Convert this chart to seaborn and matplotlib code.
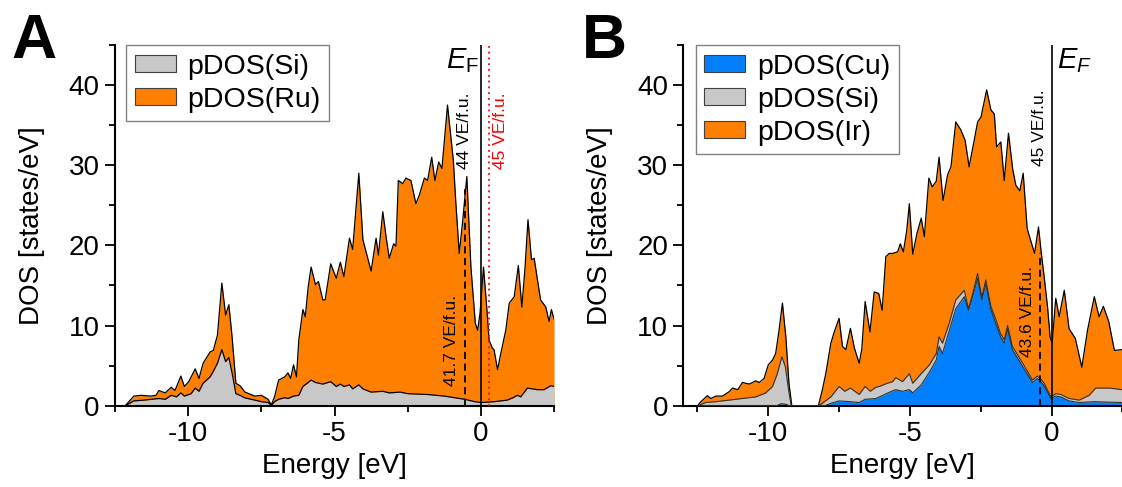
import numpy as np
import pandas as pd
import matplotlib
matplotlib.use("Agg")
import matplotlib.pyplot as plt
from matplotlib.patches import Patch
from matplotlib.ticker import MultipleLocator
import seaborn as sns

# ---------------- data ----------------
# Panel A: top of the stacked Si+Ru pDOS and Si pDOS
energy_a_total = [-12.15, -11.86, -11.6, -11.3, -11.1, -11.0, -10.78, -10.58, -10.45, -10.25,
                  -10.13, -9.98, -9.76, -9.63, -9.49, -9.25, -9.14, -9.0, -8.85, -8.72,
                  -8.61, -8.5, -8.37, -8.23, -8.06, -7.72, -7.5, -7.27, -7.16, -7.05,
                  -6.91, -6.7, -6.59, -6.5, -6.4, -6.3, -6.22, -6.08, -6.0, -5.9,
                  -5.8, -5.65, -5.55, -5.4, -5.32, -5.13, -4.94, -4.8, -4.68, -4.49,
                  -4.38, -4.17, -4.03, -3.75, -3.58, -3.5, -3.35, -3.24, -3.13, -2.98,
                  -2.9, -2.82, -2.67, -2.56, -2.39, -2.22, -2.1, -1.93, -1.82, -1.68,
                  -1.57, -1.44, -1.33, -1.14, -0.94, -0.86, -0.74, -0.63, -0.48, -0.34,
                  -0.19, -0.11, -0.03, 0.09, 0.2, 0.28, 0.39, 0.45, 0.57, 0.68,
                  0.85, 0.97, 1.14, 1.28, 1.4, 1.51, 1.61, 1.73, 1.82, 2.04,
                  2.22, 2.33, 2.41, 2.5]
dos_a_si_ru = [0.0, 1.2, 1.3, 1.2, 1.3, 1.9, 1.6, 2.3, 1.9, 3.7,
               2.4, 3.0, 4.6, 3.4, 5.3, 6.7, 6.9, 8.8, 15.3, 11.3,
               12.6, 8.6, 2.8, 2.5, 1.7, 1.2, 1.3, 0.8, 0.1, 1.1,
               3.2, 3.6, 4.1, 3.4, 5.1, 3.6, 8.2, 12.0, 11.1, 14.8,
               17.3, 15.1, 15.5, 13.2, 13.2, 17.7, 15.9, 17.9, 16.1, 20.9,
               19.5, 29.0, 20.7, 16.8, 20.9, 18.8, 24.2, 21.1, 18.4, 20.2,
               19.9, 28.1, 27.7, 28.4, 28.1, 25.2, 26.3, 28.4, 28.1, 31.0,
               28.1, 30.4, 29.6, 37.5, 30.6, 25.6, 19.0, 22.7, 28.6, 17.3,
               10.3, 9.4, 11.5, 17.3, 12.3, 8.2, 7.2, 7.0, 4.5, 6.5,
               9.4, 12.8, 13.6, 17.5, 12.3, 17.3, 23.2, 18.2, 18.4, 13.2,
               12.3, 10.5, 12.0, 10.8]

energy_a_si = [-12.15, -11.86, -11.5, -11.0, -10.78, -10.58, -10.4, -10.25, -10.13, -9.9,
               -9.76, -9.63, -9.49, -9.25, -9.14, -9.0, -8.85, -8.72, -8.61, -8.5,
               -8.37, -8.23, -8.06, -7.72, -7.5, -7.27, -7.16, -7.05, -6.91, -6.7,
               -6.59, -6.4, -6.22, -6.08, -5.9, -5.8, -5.65, -5.4, -5.13, -4.94,
               -4.8, -4.68, -4.49, -4.38, -4.17, -4.03, -3.75, -3.35, -3.13, -2.75,
               -2.5, -1.82, -1.25, -0.55, -0.2, 0.0, 0.45, 0.9, 1.1, 1.25,
               1.36, 1.59, 1.93, 2.16, 2.39, 2.5]
dos_a_si = [0.0, 0.6, 0.7, 0.9, 0.8, 1.3, 1.1, 1.6, 1.2, 1.5,
            2.2, 1.8, 2.8, 3.6, 4.3, 5.3, 7.0, 5.5, 6.0, 4.1,
            1.5, 1.3, 0.97, 0.7, 0.5, 0.4, 0.05, 0.5, 0.8, 1.0,
            0.9, 1.2, 1.3, 2.4, 2.9, 3.2, 2.9, 2.7, 3.0, 2.4,
            2.7, 2.4, 2.6, 2.1, 2.6, 2.1, 1.7, 1.8, 1.6, 1.7,
            1.5, 1.4, 1.2, 0.8, 0.5, 0.4, 0.5, 0.7, 1.0, 1.3,
            1.1, 2.2, 2.0, 2.0, 2.5, 2.4]

# Panel B: tops of the stacked Cu, Cu+Si, Cu+Si+Ir pDOS
energy_b_total = [-12.5, -12.38, -12.15, -12.03, -11.85, -11.62, -11.38, -11.26, -11.08, -10.91,
                  -10.67, -10.44, -10.32, -10.15, -10.0, -9.85, -9.74, -9.62, -9.5, -9.38,
                  -9.27, -9.17, -8.23, -8.09, -7.97, -7.79, -7.67, -7.5, -7.38, -7.26,
                  -7.1, -6.96, -6.79, -6.7, -6.58, -6.41, -6.26, -6.1, -5.98, -5.85,
                  -5.73, -5.61, -5.43, -5.34, -5.23, -5.11, -5.02, -4.9, -4.75, -4.6,
                  -4.49, -4.33, -4.21, -4.07, -3.97, -3.83, -3.67, -3.55, -3.38, -3.2,
                  -3.05, -2.91, -2.73, -2.61, -2.49, -2.29, -2.14, -2.02, -1.94, -1.79,
                  -1.67, -1.52, -1.37, -1.26, -1.12, -1.0, -0.86, -0.6, -0.46, -0.36,
                  -0.26, -0.14, -0.05, 0.02, 0.15, 0.27, 0.45, 0.62, 0.84, 1.07,
                  1.27, 1.51, 1.68, 1.83, 2.02, 2.22, 2.5]
dos_b_cu_si_ir = [0.0, 0.5, 1.25, 0.9, 1.2, 1.2, 1.75, 2.2, 2.0, 2.9,
                  2.7, 3.1, 2.9, 3.4, 5.1, 5.7, 6.5, 9.4, 12.8, 8.6,
                  2.8, 0.0, 0.0, 2.0, 4.0, 7.8, 9.2, 10.9, 7.4, 7.0,
                  9.65, 7.2, 5.3, 7.0, 13.0, 9.2, 14.2, 14.0, 11.9, 18.6,
                  19.0, 19.0, 19.2, 20.2, 19.2, 21.9, 25.2, 18.9, 21.5, 23.4,
                  21.1, 28.4, 27.3, 28.0, 31.0, 25.6, 28.8, 29.8, 35.4, 34.4,
                  33.1, 29.8, 33.1, 35.4, 36.0, 39.4, 36.9, 36.4, 32.3, 32.9,
                  28.1, 34.0, 29.5, 27.5, 26.8, 29.0, 22.1, 19.0, 22.3, 19.0,
                  16.1, 12.3, 8.6, 7.8, 13.4, 11.1, 14.4, 9.6, 8.4, 4.8,
                  9.4, 13.6, 11.1, 12.4, 10.5, 6.9, 7.0]

energy_b_cusi = [-12.5, -12.2, -11.85, -11.38, -10.91, -10.44, -10.09, -9.85, -9.68, -9.52,
                 -9.4, -9.28, -9.19, -8.23, -8.09, -7.79, -7.5, -7.3, -7.1, -6.79,
                 -6.58, -6.4, -6.2, -6.08, -5.8, -5.61, -5.5, -5.26, -5.02, -4.9,
                 -4.6, -4.31, -4.07, -3.97, -3.85, -3.61, -3.38, -3.08, -2.93, -2.75,
                 -2.61, -2.46, -2.32, -2.14, -1.96, -1.8, -1.67, -1.55, -1.38, -1.02,
                 -0.67, -0.5, -0.4, -0.26, -0.02, 0.15, 0.33, 0.62, 0.98, 1.33,
                 1.56, 2.04, 2.5]
dos_b_cu_si = [0.0, 0.4, 0.5, 0.7, 0.9, 1.1, 1.6, 2.4, 4.0, 6.1,
               4.9, 1.9, 0.0, 0.0, 0.3, 1.1, 2.4, 1.8, 2.2, 1.4,
               2.4, 1.8, 2.3, 2.4, 2.8, 3.0, 3.5, 3.0, 4.0, 2.8,
               4.0, 5.1, 6.5, 8.6, 7.8, 10.3, 13.2, 14.4, 12.1, 14.4,
               16.5, 13.5, 15.7, 12.4, 10.7, 9.0, 8.2, 10.0, 7.4, 5.3,
               3.2, 3.7, 3.4, 2.8, 1.1, 1.5, 1.4, 0.9, 0.7, 1.3,
               2.2, 2.2, 2.0]

energy_b_cu = [-12.5, -9.7, -9.55, -9.4, -9.25, -8.0, -7.79, -7.5, -7.1, -6.79,
               -6.58, -6.2, -6.08, -5.68, -5.5, -5.26, -5.02, -4.9, -4.6, -4.31,
               -4.07, -3.97, -3.85, -3.61, -3.38, -3.08, -2.93, -2.75, -2.61, -2.46,
               -2.32, -2.14, -1.96, -1.8, -1.67, -1.55, -1.38, -1.02, -0.67, -0.5,
               -0.4, -0.26, -0.02, 0.15, 0.33, 0.62, 0.98, 1.5, 2.5]
dos_b_cu = [0.0, 0.0, 0.25, 0.2, 0.0, 0.0, 0.3, 0.6, 0.5, 0.4,
            0.8, 0.9, 1.1, 1.75, 2.0, 1.8, 2.0, 1.6, 2.6, 4.2,
            5.7, 7.4, 6.5, 9.4, 12.1, 13.6, 11.9, 14.0, 15.9, 13.2,
            15.2, 12.0, 10.2, 8.6, 7.8, 9.6, 7.0, 4.9, 2.9, 3.4,
            3.1, 2.5, 0.9, 1.2, 1.1, 0.6, 0.4, 0.5, 0.4]

legend_a = ["pDOS(Si)", "pDOS(Ru)"]
legend_b = ["pDOS(Cu)", "pDOS(Si)", "pDOS(Ir)"]

# ---------------- style ----------------
sns.set_theme(style="ticks")
plt.rcParams["font.family"] = ["Liberation Sans", "DejaVu Sans"]
plt.rcParams["mathtext.fontset"] = "custom"
plt.rcParams["mathtext.rm"] = "Liberation Sans"
plt.rcParams["mathtext.it"] = "Liberation Sans:italic"
plt.rcParams["mathtext.bf"] = "Liberation Sans:bold"
plt.rcParams["axes.unicode_minus"] = False
for key in ["text.color", "axes.labelcolor", "xtick.color", "ytick.color",
            "axes.edgecolor"]:
    plt.rcParams[key] = "black"

ORANGE = "#FF8000"
GREY = "#C8C8C8"
BLUE = "#0080FF"
FS = 20
LEG_FS = 20.5

fig = plt.figure(figsize=(11.22, 4.87), dpi=100)
axA = fig.add_axes([0.1025, 0.1669, 0.3913, 0.7407])
axB = fig.add_axes([0.6090, 0.1669, 0.3913, 0.7407])


def area(ax, x, y, color, edge="black", lw=0.9):
    ax.fill_between(x, 0, y, color=color, linewidth=0, zorder=2)
    sns.lineplot(x=x, y=y, ax=ax, color=edge, linewidth=lw, sort=False, zorder=3,
                 legend=False)


def style_axes(ax, xlim):
    ax.set_xlim(*xlim)
    ax.set_ylim(0, 45)
    ax.xaxis.set_major_locator(MultipleLocator(5))
    ax.xaxis.set_minor_locator(MultipleLocator(2.5))
    ax.yaxis.set_major_locator(MultipleLocator(10))
    ax.yaxis.set_minor_locator(MultipleLocator(5))
    ax.tick_params(which="major", direction="out", length=7, width=1.3,
                   labelsize=FS, pad=4, color="black", labelcolor="black")
    ax.tick_params(which="minor", direction="out", length=4, width=1.3, color="black")
    for s in ["top", "right"]:
        ax.spines[s].set_visible(False)
    for s in ["left", "bottom"]:
        ax.spines[s].set_linewidth(1.5)
        ax.spines[s].set_color("black")
    ax.set_xlabel("Energy [eV]", fontsize=FS, color="black")
    ax.set_ylabel("DOS [states/eV]", fontsize=FS, color="black")
    ax.xaxis.set_label_coords(0.5, -0.13)
    ax.yaxis.set_label_coords(-0.16, 0.5)
    ax.set_facecolor("white")


VE_FS = 12.5

# ---- Panel A ----
area(axA, energy_a_total, dos_a_si_ru, ORANGE)
area(axA, energy_a_si, dos_a_si, GREY)
style_axes(axA, (-12.5, 2.5))
axA.axvline(0, color="black", lw=1.2, zorder=4)
axA.axvline(0.28, color="red", lw=1.3, ls=(0, (1, 2.2)), zorder=4)
axA.vlines(-0.53, 0, 27.0, color="black", lw=1.3, ls=(0, (4, 2.5)), zorder=4)
axA.text(-0.55, 34.3, "44 VE/f.u.", rotation=90, ha="center", va="center",
         fontsize=VE_FS, color="black")
axA.text(0.68, 34.3, "45 VE/f.u.", rotation=90, ha="center", va="center",
         fontsize=VE_FS, color="red")
axA.text(-1.0, 8.2, "41.7 VE/f.u.", rotation=90, ha="center", va="center",
         fontsize=VE_FS, color="black")
axA.text(-0.08, 44.8, r"$E_\mathrm{F}$", ha="right", va="top", fontsize=21)
hA = [Patch(facecolor=GREY, edgecolor="#404040", lw=0.8),
      Patch(facecolor=ORANGE, edgecolor="#404040", lw=0.8)]
legA = axA.legend(hA, legend_a, loc="upper left", bbox_to_anchor=(0.025, 1.0),
                  borderaxespad=0, fontsize=LEG_FS, frameon=True, fancybox=False,
                  edgecolor="#808080", framealpha=1, handlelength=1.45,
                  handleheight=0.55, labelspacing=0.25, handletextpad=0.4,
                  borderpad=0.3)
legA.get_frame().set_linewidth(1.0)

# ---- Panel B ----
area(axB, energy_b_total, dos_b_cu_si_ir, ORANGE)
area(axB, energy_b_cusi, dos_b_cu_si, GREY, edge="#303030", lw=0.8)
area(axB, energy_b_cu, dos_b_cu, BLUE, edge="#303030", lw=0.8)
style_axes(axB, (-13.0, 2.5))
axB.axvline(0, color="black", lw=1.2, zorder=4)
axB.vlines(-0.41, 0, 19.0, color="black", lw=1.3, ls=(0, (4, 2.5)), zorder=4)
axB.text(-0.43, 34.7, "45 VE/f.u.", rotation=90, ha="center", va="center",
         fontsize=VE_FS, color="black")
axB.text(-0.85, 11.8, "43.6 VE/f.u.", rotation=90, ha="center", va="center",
         fontsize=VE_FS, color="black")
axB.text(0.18, 44.8, r"$E_F$", ha="left", va="top", fontsize=21)
hB = [Patch(facecolor=BLUE, edgecolor="#404040", lw=0.8),
      Patch(facecolor=GREY, edgecolor="#404040", lw=0.8),
      Patch(facecolor=ORANGE, edgecolor="#404040", lw=0.8)]
legB = axB.legend(hB, legend_b, loc="upper left", bbox_to_anchor=(0.028, 1.0),
                  borderaxespad=0, fontsize=LEG_FS, frameon=True, fancybox=False,
                  edgecolor="#808080", framealpha=1, handlelength=1.45,
                  handleheight=0.55, labelspacing=0.25, handletextpad=0.4,
                  borderpad=0.3)
legB.get_frame().set_linewidth(1.0)

# panel letters
fig.text(0.010, 0.975, "A", fontsize=45, fontweight="bold", ha="left", va="top")
fig.text(0.519, 0.975, "B", fontsize=45, fontweight="bold", ha="left", va="top")

fig.savefig("out.png", dpi=100, facecolor="white")
